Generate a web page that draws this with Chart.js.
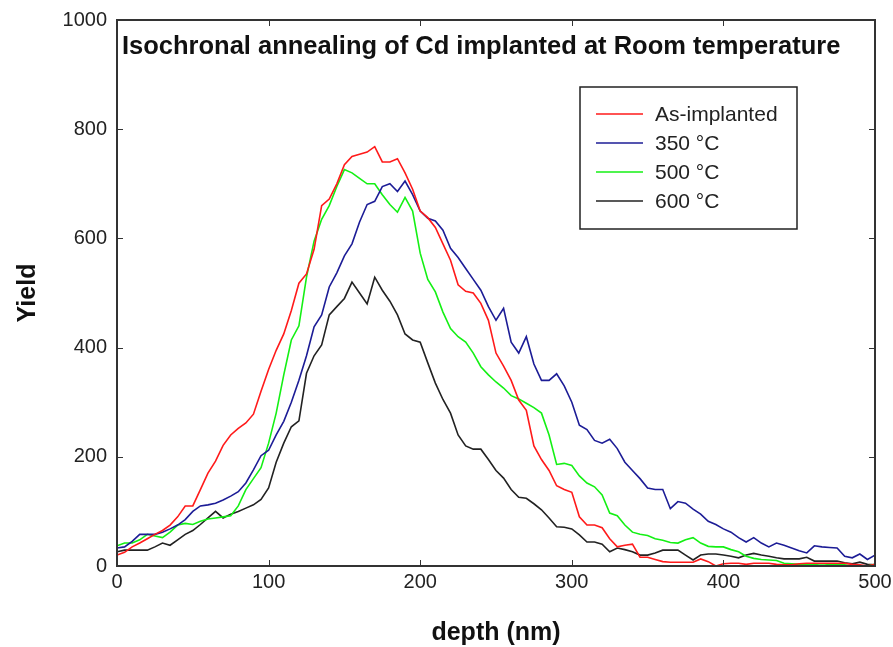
<!DOCTYPE html>
<html>
<head>
<meta charset="utf-8">
<script src="https://cdn.jsdelivr.net/npm/chart.js@4/dist/chart.umd.min.js"></script>
<style>
  html, body { margin: 0; padding: 0; background: #fff; }
  #wrap { width: 893px; height: 647px; }
</style>
</head>
<body>
<div id="wrap"><canvas id="chart" width="893" height="647"></canvas></div>
<script>
// depth in nm, one point every 5 nm
const depth = [];
for (let d = 0; d <= 500; d += 5) depth.push(d);

const seriesNames = ['As-implanted', '350 \u00B0C', '500 \u00B0C', '600 \u00B0C'];
const seriesColors = ['#ff1a1a', '#1c1c96', '#14f014', '#222222'];

const asImplanted = [
  20, 25, 35, 42, 50, 58, 65, 75, 90, 110,
  110, 140, 170, 192, 221, 240, 252, 262, 278, 320,
  360, 395, 425, 468, 518, 535, 580, 660, 672, 700,
  735, 750, 754, 758, 768, 740, 740, 746, 720, 690,
  650, 638, 620, 590, 560, 515, 503, 500, 481, 450,
  390, 366, 340, 304, 285, 220, 195, 175, 147, 140,
  135, 90, 75, 75, 70, 50, 35, 38, 40, 16,
  16, 12, 8, 7, 7, 7, 7, 13, 8, 0,
  4, 5, 5, 3, 5, 5, 5, 3, 2, 2,
  4, 5, 5, 5, 5, 5, 5, 3, 2, 0,
  3
];
const c350 = [
  33, 35, 45, 58, 58, 58, 62, 68, 75, 85,
  100, 110, 112, 115, 121, 128, 136, 152, 176, 202,
  212, 240, 265, 300, 340, 385, 438, 460, 511, 537,
  568, 590, 630, 662, 668, 695, 700, 686, 705, 680,
  650, 637, 632, 615, 582, 565, 545, 525, 505, 475,
  450, 472, 410, 390, 420, 370, 340, 340, 352, 330,
  300, 258, 250, 230, 225, 232, 215, 190, 175, 160,
  143, 140, 140, 105, 118, 115, 104, 95, 82, 76,
  68, 62, 52, 44, 52, 42, 35, 42, 38, 33,
  28, 24, 37, 35, 34, 33, 18, 15, 22, 12,
  20
];
const c500 = [
  37, 42, 42, 48, 58, 55, 52, 62, 75, 78,
  76, 82, 86, 88, 90, 92, 110, 140, 160, 180,
  225, 280, 350, 414, 440, 529, 595, 635, 660, 695,
  726, 720, 710, 700, 700, 680, 662, 648, 675, 650,
  573, 525, 502, 465, 435, 420, 410, 390, 365, 350,
  337, 326, 312, 306, 298, 290, 280, 240, 186, 188,
  184, 165, 152, 145, 130, 97, 92, 75, 62, 58,
  56, 50, 47, 43, 42, 48, 52, 42, 36, 35,
  35, 30, 26, 18, 14, 12, 11, 10, 5, 4,
  3, 2, 3, 4, 3, 2, 2, 0, 0, 0,
  3
];
const c600 = [
  26, 29, 29, 29, 29, 35, 42, 38, 48, 58,
  65, 76, 88, 100, 88, 95, 100, 106, 112, 122,
  143, 190, 225, 255, 266, 353, 385, 405, 460, 475,
  490, 520, 500, 480, 529, 505, 485, 460, 425, 414,
  410, 372, 335, 305, 280, 240, 220, 214, 214, 195,
  175, 161, 140, 126, 124, 114, 103, 88, 72, 71,
  68, 57, 44, 44, 40, 26, 33, 30, 26, 20,
  20, 24, 29, 29, 29, 20, 11, 20, 22, 22,
  20, 18, 15, 20, 23, 20, 18, 15, 13, 13,
  13, 16, 9, 9, 9, 9, 6, 4, 7, 3,
  2
];

const xTicks = [0, 100, 200, 300, 400, 500];
const yTicks = [0, 200, 400, 600, 800, 1000];

const chartTitle = 'Isochronal annealing of Cd implanted at Room temperature';
const FONT = '"Liberation Sans", Arial, sans-serif';

function toPoints(vals) {
  return vals.map((v, i) => ({ x: depth[i], y: v }));
}

const allSeries = [asImplanted, c350, c500, c600];
const datasets = allSeries.map((vals, i) => ({
  label: seriesNames[i],
  data: toPoints(vals),
  borderColor: seriesColors[i],
  backgroundColor: seriesColors[i],
  borderWidth: 1.6,
  pointRadius: 0,
  tension: 0,
  order: i
}));

// frame, inward ticks, title and legend box
const decor = {
  id: 'decor',
  afterDatasetsDraw(chart) {
    const { ctx, chartArea: a, scales } = chart;
    ctx.save();
    ctx.strokeStyle = '#333';
    ctx.lineWidth = 1;
    ctx.beginPath();
    xTicks.forEach(t => {
      const px = Math.round(scales.x.getPixelForValue(t)) + 0.5;
      ctx.moveTo(px, a.bottom); ctx.lineTo(px, a.bottom - 6);
      ctx.moveTo(px, a.top); ctx.lineTo(px, a.top + 6);
    });
    yTicks.forEach(t => {
      const py = Math.round(scales.y.getPixelForValue(t)) + 0.5;
      ctx.moveTo(a.left, py); ctx.lineTo(a.left + 6, py);
      ctx.moveTo(a.right, py); ctx.lineTo(a.right - 6, py);
    });
    ctx.stroke();

    ctx.lineWidth = 2;
    ctx.strokeRect(a.left, a.top, a.right - a.left, a.bottom - a.top);

    // title inside the plot
    ctx.fillStyle = '#111';
    ctx.font = 'bold 25.5px ' + FONT;
    ctx.textBaseline = 'middle';
    ctx.textAlign = 'left';
    ctx.fillText(chartTitle, a.left + 5, 47);

    // legend
    const lx = 580, ly = 87, lw = 217, lh = 142;
    ctx.fillStyle = '#fff';
    ctx.fillRect(lx, ly, lw, lh);
    ctx.lineWidth = 1.5;
    ctx.strokeStyle = '#222';
    ctx.strokeRect(lx, ly, lw, lh);
    ctx.font = '21px ' + FONT;
    seriesNames.forEach((name, i) => {
      const yy = 114 + i * 29;
      ctx.strokeStyle = seriesColors[i];
      ctx.lineWidth = 1.6;
      ctx.beginPath();
      ctx.moveTo(596, yy); ctx.lineTo(643, yy);
      ctx.stroke();
      ctx.fillStyle = '#222';
      ctx.fillText(name, 655, yy + 1);
    });
    ctx.restore();
  }
};

new Chart(document.getElementById('chart'), {
  type: 'line',
  data: { datasets },
  options: {
    responsive: false,
    animation: false,
    layout: { padding: { left: 0, top: 20, right: 18, bottom: 0 } },
    plugins: {
      legend: { display: false },
      tooltip: { enabled: false }
    },
    scales: {
      x: {
        type: 'linear',
        min: 0, max: 500,
        afterFit(s) { s.height = 81; s.paddingLeft = 0; s.paddingRight = 0; },
        afterBuildTicks(s) { s.ticks = xTicks.map(v => ({ value: v })); },
        grid: { display: false, drawTicks: false },
        border: { display: false },
        ticks: {
          padding: 4, color: '#222', font: { family: FONT, size: 20 },
          callback: v => String(v)
        },
        title: {
          display: true, text: 'depth (nm)', color: '#111',
          font: { family: FONT, size: 25, weight: 'bold', lineHeight: 1.1 },
          padding: { top: 0, bottom: 0 }
        }
      },
      y: {
        min: 0, max: 1000,
        afterFit(s) { s.width = 117; s.paddingTop = 0; s.paddingBottom = 0; },
        afterBuildTicks(s) { s.ticks = yTicks.map(v => ({ value: v })); },
        grid: { display: false, drawTicks: false },
        border: { display: false },
        ticks: {
          padding: 10, color: '#222', font: { family: FONT, size: 20 },
          callback: v => String(v)
        },
        title: {
          display: true, text: 'Yield', color: '#111',
          font: { family: FONT, size: 25, weight: 'bold' },
          padding: { top: 13, bottom: 0 }
        }
      }
    }
  },
  plugins: [decor]
});
</script>
</body>
</html>
